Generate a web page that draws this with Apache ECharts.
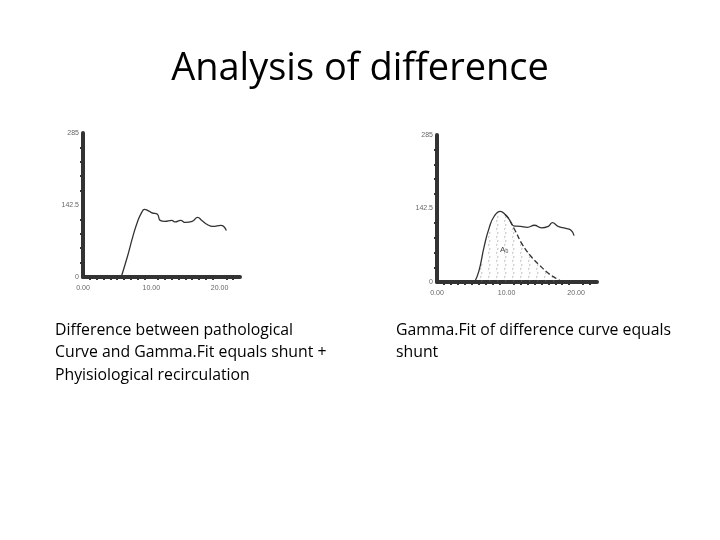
<!DOCTYPE html>
<html><head><meta charset="utf-8">
<script src="https://cdn.jsdelivr.net/npm/echarts@6/dist/echarts.min.js"></script>
<style>html,body{margin:0;background:#fff}#main{width:720px;height:540px}</style>
</head><body><div id="main"></div>
<script>
// left chart: pathological curve
const leftCurve = [[5.6,0],[6.5,40],[7.3,80],[8.0,110],[8.6,128],[9.0,134],[9.6,131],[10.1,127],[10.9,124],[11.3,112],[12,110],[13,112],[13.5,109],[14.3,112],[15,108],[16,110],[16.8,118],[17.4,112],[18.2,104],[19,100],[20.2,102],[21,92]];
// right chart: measured curve and gamma fit
const rightCurve = [[5.4,0],[6.0,20],[6.8,70],[7.5,105],[8.2,127],[9.1,137],[9.8,131],[10.4,121],[11,109],[12,108],[13,106],[14,110],[15,105],[16,108],[16.6,115],[17.4,108],[18.5,104],[19.3,100],[19.7,90]];
const gammaFit = [[9.8,131],[10.4,121],[11.3,98],[12.3,72],[13.5,50],[14.7,33],[16,17],[17,8],[18,0]];
const xTicks = ['0.00','10.00','20.00'];
const yTicks = ['0','142.5','285'];

// hatched area = rising part of measured curve + gamma fit
const hatchArea = rightCurve.filter(p => p[0] < 9.8).concat(gammaFit);

const pat = document.createElement('canvas');
pat.width = 8; pat.height = 8;
const pc = pat.getContext('2d');
pc.strokeStyle = '#777'; pc.lineWidth = 0.7;
pc.setLineDash([2,2]);
pc.beginPath(); pc.moveTo(2,0); pc.lineTo(0,8); pc.stroke();
pc.beginPath(); pc.moveTo(10,0); pc.lineTo(8,8); pc.stroke();

const chart = echarts.init(document.getElementById('main'));
function xAx(i){return {gridIndex:i,type:'value',min:0,max:23,interval:10,
  axisLine:{lineStyle:{color:'#333',width:4}},axisTick:{show:false},
  minorTick:{show:true,splitNumber:10,length:3,lineStyle:{color:'#333',width:2}},
  splitLine:{show:false},
  axisLabel:{fontSize:7,color:'#666',formatter:v=>xTicks[v/10]}}}
function yAx(i){return {gridIndex:i,type:'value',min:0,max:285,interval:142.5,
  axisLine:{show:true,lineStyle:{color:'#333',width:4}},axisTick:{show:false},
  minorTick:{show:true,splitNumber:5,length:3,lineStyle:{color:'#333',width:2}},
  splitLine:{show:false},
  axisLabel:{fontSize:7,color:'#666',margin:4,formatter:v=>yTicks[Math.round(v/142.5)]}}}
chart.setOption({
  animation:false,
  title:{text:'Analysis of difference',left:'center',top:45,
    textStyle:{fontFamily:'Open Sans',fontWeight:'normal',fontSize:38,color:'#000'}},
  grid:[{left:83,top:133,width:157,height:144},{left:437,top:135,width:160,height:147}],
  xAxis:[xAx(0),xAx(1)],
  yAxis:[yAx(0),yAx(1)],
  series:[
    {type:'line',xAxisIndex:0,yAxisIndex:0,data:leftCurve,smooth:true,symbol:'none',lineStyle:{color:'#333',width:1.3}},
    {type:'line',xAxisIndex:1,yAxisIndex:1,data:hatchArea,smooth:true,symbol:'none',lineStyle:{width:0},
      areaStyle:{color:{image:pat,repeat:'repeat'}},z:1},
    {type:'line',xAxisIndex:1,yAxisIndex:1,data:rightCurve,smooth:true,symbol:'none',lineStyle:{color:'#333',width:1.3}},
    {type:'line',xAxisIndex:1,yAxisIndex:1,data:gammaFit,smooth:true,symbol:'none',lineStyle:{color:'#333',width:1.3,type:'dashed'}}
  ],
  graphic:[
    {type:'text',left:500,top:246,style:{text:'A₀',fontSize:8,fill:'#444'}},
    {type:'text',left:55,top:319,style:{text:'Difference between pathological\nCurve and Gamma.Fit equals shunt +\nPhyisiological recirculation',
      font:'15.8px "Open Sans"',lineHeight:22.5,fill:'#000'}},
    {type:'text',left:396,top:319,style:{text:'Gamma.Fit of difference curve equals\nshunt',
      font:'15.8px "Open Sans"',lineHeight:22.5,fill:'#000'}}
  ]
});
</script></body></html>
